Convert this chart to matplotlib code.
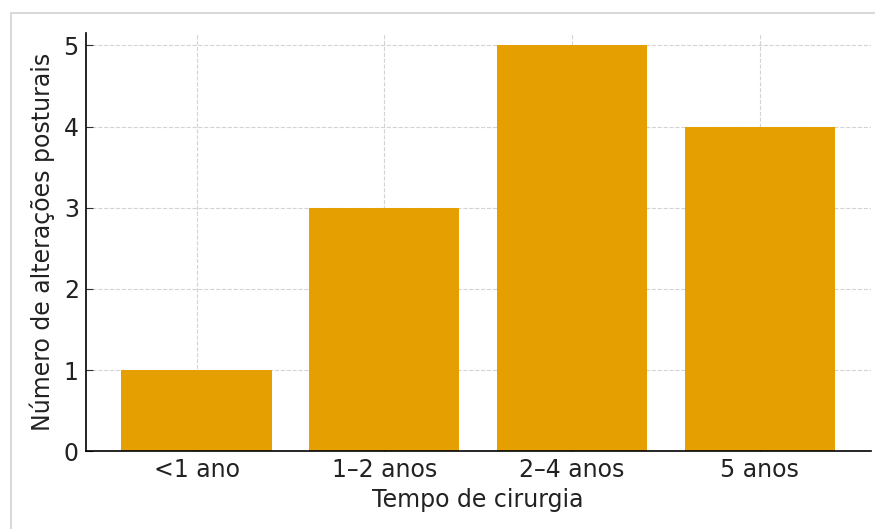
import matplotlib.pyplot as plt
from matplotlib.patches import Rectangle

categories = ['<1 ano', '1–2 anos', '2–4 anos', '5 anos']
values = [1, 3, 5, 4]
yticks = [0, 1, 2, 3, 4, 5]

fig = plt.figure(figsize=(8.75, 5.29), dpi=100)
# screenshot frame around the chart
fig.patches.append(Rectangle((0.012, -0.01), 1.0, 0.985, transform=fig.transFigure,
                             fill=False, edgecolor='#d9d9d9', linewidth=1.5))
ax = fig.add_axes([0.098, 0.147, 0.897, 0.79])

ax.bar(categories, values, width=0.8, color='#E69F00', zorder=2)
ax.grid(True, linestyle='--', color='#c8c8c8', linewidth=0.8, alpha=0.8, zorder=3)
ax.set_ylim(0, 5.15)
ax.set_yticks(yticks)

for side in ['top', 'right']:
    ax.spines[side].set_visible(False)
ax.spines['left'].set_linewidth(1.2)
ax.spines['bottom'].set_linewidth(1.2)
ax.tick_params(direction='in', labelsize=17, length=5, pad=5, colors='#333333', labelcolor='#222222')

ax.set_xlabel('Tempo de cirurgia', fontsize=17, color='#222222', labelpad=4)
ax.set_ylabel('Número de alterações posturais', fontsize=17, color='#222222', labelpad=6)

fig.savefig('out.png', dpi=100)
